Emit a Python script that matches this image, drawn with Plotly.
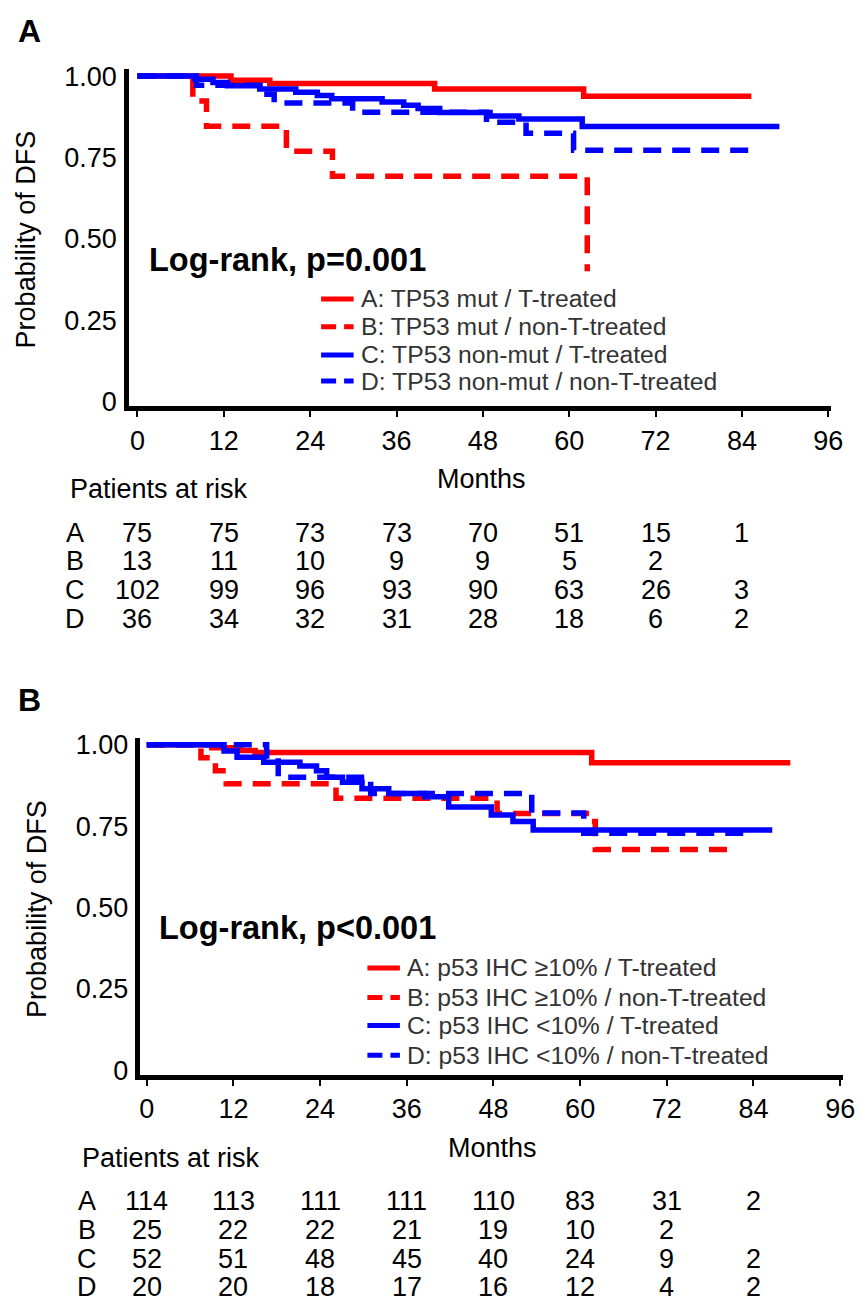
import plotly.graph_objects as go

# ---------------- data ----------------
x_ticks = [0, 12, 24, 36, 48, 60, 72, 84, 96]
y_ticks = [0, 0.25, 0.50, 0.75, 1.00]
y_ticktext = ["0", "0.25", "0.50", "0.75", "1.00"]
risk_months = [0, 12, 24, 36, 48, 60, 72, 84]
group_letters = ["A", "B", "C", "D"]

# Panel A (TP53 mutation)
pA_labels = ["A: TP53 mut / T-treated", "B: TP53 mut / non-T-treated",
             "C: TP53 non-mut / T-treated", "D: TP53 non-mut / non-T-treated"]
pA_A_t = [0, 13, 18.4, 41.3, 62, 85.3]
pA_A_s = [1.0, 0.987, 0.977, 0.960, 0.938, 0.938]
pA_B_t = [0, 7.7, 9.6, 20.7, 27.1, 62.5]
pA_B_s = [1.0, 0.923, 0.846, 0.769, 0.692, 0.40]
pA_C_t = [0, 8, 10.5, 12.5, 17, 22, 25, 27, 34, 37, 39, 42, 49, 53, 61.8, 89.2]
pA_C_s = [1.0, 0.99, 0.98, 0.97, 0.96, 0.95, 0.94, 0.93, 0.92, 0.91, 0.90, 0.888, 0.877, 0.868, 0.845, 0.845]
pA_D_t = [0, 8.2, 17, 19, 29.9, 48.5, 54, 60.6, 85]
pA_D_s = [1.0, 0.972, 0.944, 0.917, 0.889, 0.858, 0.824, 0.772, 0.772]
pA_risk_A = [75, 75, 73, 73, 70, 51, 15, 1]
pA_risk_B = [13, 11, 10, 9, 9, 5, 2]
pA_risk_C = [102, 99, 96, 93, 90, 63, 26, 3]
pA_risk_D = [36, 34, 32, 31, 28, 18, 6, 2]
pA_logrank = "Log-rank, p=0.001"

# Panel B (p53 IHC)
pB_labels = ["A: p53 IHC ≥10% / T-treated", "B: p53 IHC ≥10% / non-T-treated",
             "C: p53 IHC <10% / T-treated", "D: p53 IHC <10% / non-T-treated"]
pB_A_t = [0, 9, 13, 15, 61.6, 89.1]
pB_A_s = [1.0, 0.991, 0.982, 0.976, 0.945, 0.945]
pB_B_t = [0, 7.5, 9.5, 11, 26.2, 48.5, 61.6, 62.1, 81]
pB_B_s = [1.0, 0.96, 0.92, 0.88, 0.836, 0.789, 0.764, 0.678, 0.678]
pB_C_t = [0, 10.7, 12.5, 16.2, 21.2, 23.5, 24.9, 27.1, 29.8, 33.5, 38.5, 41.8, 47.7, 50.7, 53.5, 86.6]
pB_C_s = [1.0, 0.981, 0.962, 0.946, 0.935, 0.92, 0.90, 0.885, 0.865, 0.85, 0.84, 0.809, 0.784, 0.764, 0.738, 0.738]
pB_D_t = [0, 16.6, 18.2, 31, 53.3, 60.5, 83.7]
pB_D_s = [1.0, 0.95, 0.90, 0.85, 0.79, 0.728, 0.728]
pB_risk_A = [114, 113, 111, 111, 110, 83, 31, 2]
pB_risk_B = [25, 22, 22, 21, 19, 10, 2]
pB_risk_C = [52, 51, 48, 45, 40, 24, 9, 2]
pB_risk_D = [20, 20, 18, 17, 16, 12, 4, 2]
pB_logrank = "Log-rank, p<0.001"

# ---------------- styling / layout ----------------
W, H = 863, 1313
FONT = "Liberation Sans, Arial, sans-serif"
RED, BLUE = "#FF0000", "#0000FF"
DASH = "18px,11px"
styles = [(RED, "solid"), (RED, DASH), (BLUE, "solid"), (BLUE, DASH)]


def fx(p):
    return p / W


def fy(p):
    return 1 - p / H


panels = [
    dict(letter="A", xa="x", ya="y", xname="xaxis", yname="yaxis",
         curves=[(pA_A_t, pA_A_s), (pA_B_t, pA_B_s), (pA_C_t, pA_C_s), (pA_D_t, pA_D_s)],
         risk=[pA_risk_A, pA_risk_B, pA_risk_C, pA_risk_D], labels=pA_labels, logrank=pA_logrank,
         dx=(130, 843), xr=(-1.163, 96.41), dy=(62, 404), off=0,
         letter_xy=(29, 23), ytitle_x=25, months_x=488, par_x=68, row_letter_x=75,
         lr_x=148, leg_line=(325, 358), leg_text_x=363, leg_rows=[295, 323.3, 351.7, 378.3]),
    dict(letter="B", xa="x2", ya="y2", xname="xaxis2", yname="yaxis2",
         curves=[(pB_A_t, pB_A_s), (pB_B_t, pB_B_s), (pB_C_t, pB_C_s), (pB_D_t, pB_D_s)],
         risk=[pB_risk_A, pB_risk_B, pB_risk_C, pB_risk_D], labels=pB_labels, logrank=pB_logrank,
         dx=(141.5, 855), xr=(-0.886, 96.41), dy=(740, 1082), off=678,
         letter_xy=(29, 702), ytitle_x=37, months_x=499, par_x=80, row_letter_x=87,
         lr_x=158, leg_line=(372, 405), leg_text_x=410, leg_rows=[973.3, 1003.3, 1031.7, 1061.7]),
]

fig = go.Figure()
annotations = []
shapes = []
layout_axes = {}

for p in panels:
    for (t, s), (col, dash) in zip(p["curves"], styles):
        fig.add_trace(go.Scatter(x=t, y=s, mode="lines", xaxis=p["xa"], yaxis=p["ya"],
                                 line=dict(shape="hv", color=col, width=5.5, dash=dash),
                                 showlegend=False, hoverinfo="skip"))
    layout_axes[p["xname"]] = dict(
        domain=[fx(p["dx"][0]), fx(p["dx"][1])], range=list(p["xr"]), anchor=p["ya"],
        tickvals=x_ticks, showline=True, linecolor="black", linewidth=4.5,
        ticks="outside", ticklen=6, tickwidth=2, tickcolor="black",
        tickfont=dict(family=FONT, size=27, color="black"),
        showgrid=False, zeroline=False, fixedrange=True)
    layout_axes[p["yname"]] = dict(
        domain=[fy(p["dy"][1]), fy(p["dy"][0])], range=[-0.01515, 1.02121], anchor=p["xa"],
        tickvals=y_ticks, ticktext=y_ticktext, showline=True, linecolor="black", linewidth=4.5,
        ticks="", ticklabelstandoff=2,
        tickfont=dict(family=FONT, size=27, color="black"),
        showgrid=False, zeroline=False, fixedrange=True)

    off = p["off"]
    # panel letter
    annotations.append(dict(text="<b>%s</b>" % p["letter"], x=fx(p["letter_xy"][0]), y=fy(p["letter_xy"][1]),
                            xref="paper", yref="paper", xanchor="center", yanchor="middle",
                            showarrow=False, font=dict(family=FONT, size=32, color="black")))
    # y title
    annotations.append(dict(text="Probability of DFS", textangle=-90, x=fx(p["ytitle_x"]),
                            y=fy((p["dy"][0] + p["dy"][1]) / 2 + 2), xref="paper", yref="paper",
                            xanchor="center", yanchor="middle", showarrow=False,
                            font=dict(family=FONT, size=27, color="black")))
    # x title
    annotations.append(dict(text="Months", x=fx(p["months_x"]), y=fy(478 + off), xref="paper", yref="paper",
                            xanchor="center", yanchor="middle", showarrow=False,
                            font=dict(family=FONT, size=27, color="black")))
    # log-rank
    annotations.append(dict(text="<b>%s</b>" % p["logrank"], x=fx(p["lr_x"]), y=fy(255 + off),
                            xref="paper", yref="paper", xanchor="left", yanchor="middle", showarrow=False,
                            font=dict(family=FONT, size=32.5, color="black")))
    # risk table
    annotations.append(dict(text="Patients at risk", x=fx(p["par_x"]), y=fy(488 + off), xref="paper", yref="paper",
                            xanchor="left", yanchor="middle", showarrow=False,
                            font=dict(family=FONT, size=27, color="black")))
    for i, (g, row) in enumerate(zip(group_letters, p["risk"])):
        yrow = fy(532 + 29 * i + off)
        annotations.append(dict(text=g, x=fx(p["row_letter_x"]), y=yrow, xref="paper", yref="paper",
                                xanchor="center", yanchor="middle", showarrow=False,
                                font=dict(family=FONT, size=27, color="black")))
        for m, n in zip(risk_months, row):
            annotations.append(dict(text=str(n), x=m, y=yrow, xref=p["xa"], yref="paper",
                                    xanchor="center", yanchor="middle", showarrow=False,
                                    font=dict(family=FONT, size=27, color="black")))
    # legend
    for (col, dash), lab, yl in zip(styles, p["labels"], p["leg_rows"]):
        shapes.append(dict(type="line", xref="paper", yref="paper",
                           x0=fx(p["leg_line"][0]), x1=fx(p["leg_line"][1]), y0=fy(yl), y1=fy(yl),
                           line=dict(color=col, width=5, dash=("15px,8px" if dash != "solid" else "solid"))))
        annotations.append(dict(text=lab, x=fx(p["leg_text_x"]), y=fy(yl), xref="paper", yref="paper",
                                xanchor="left", yanchor="middle", showarrow=False,
                                font=dict(family=FONT, size=24.7, color="#333333")))

fig.update_layout(width=W, height=H, margin=dict(l=0, r=0, t=0, b=0),
                  paper_bgcolor="white", plot_bgcolor="white",
                  showlegend=False, annotations=annotations, shapes=shapes, **layout_axes)

fig.write_html("out.html")
